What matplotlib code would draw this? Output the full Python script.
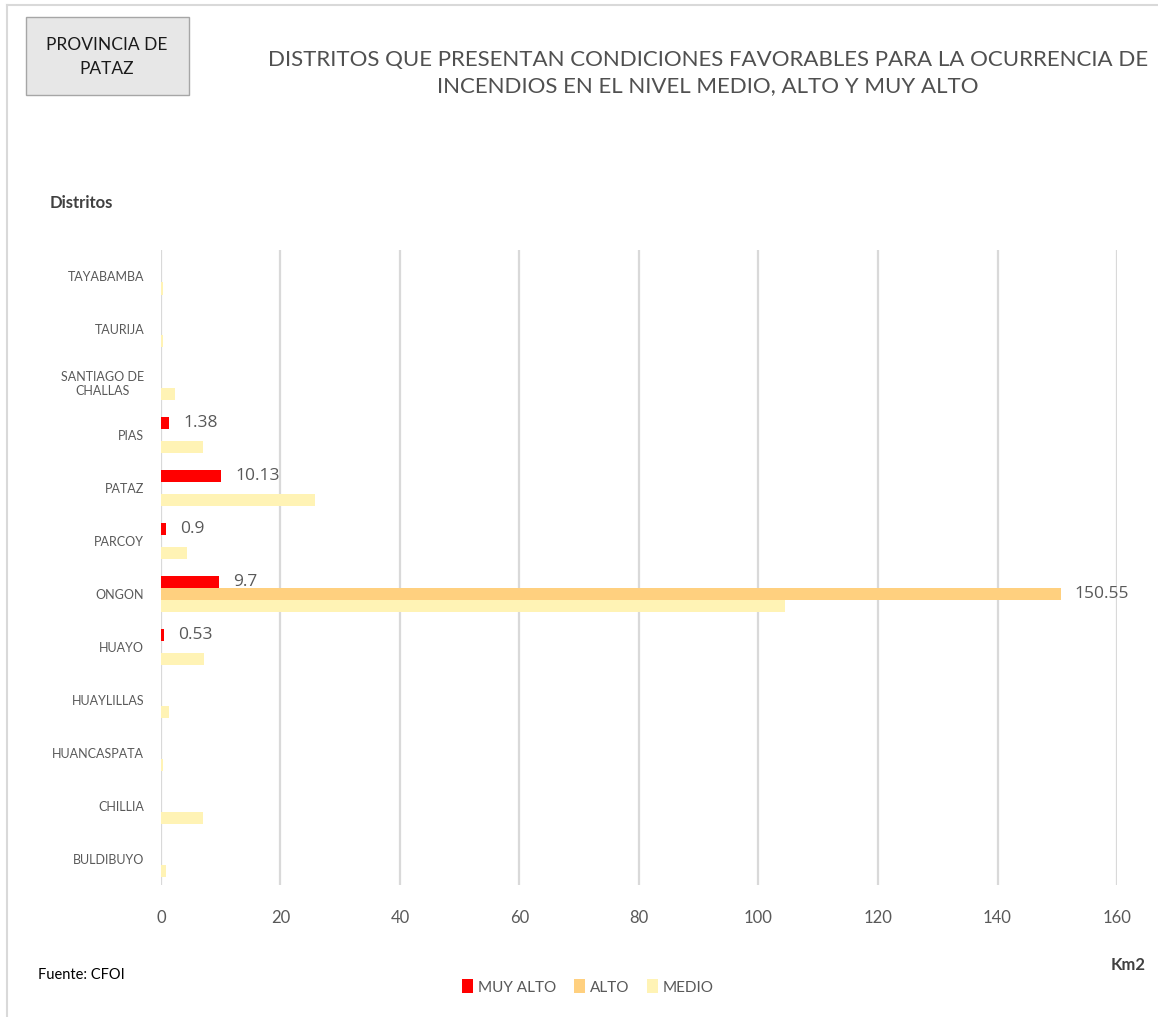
import numpy as np
import matplotlib
matplotlib.use("Agg")
import matplotlib.pyplot as plt
from matplotlib.patches import Rectangle

plt.rcParams['font.family'] = ['Lato', 'DejaVu Sans']

# Datos (km2), de arriba hacia abajo como en el grafico
distritos = ['TAYABAMBA', 'TAURIJA', 'SANTIAGO DE\nCHALLAS', 'PIAS', 'PATAZ', 'PARCOY',
             'ONGON', 'HUAYO', 'HUAYLILLAS', 'HUANCASPATA', 'CHILLIA', 'BULDIBUYO']
muy_alto = [0, 0, 0, 1.38, 10.13, 0.9, 9.7, 0.53, 0, 0, 0, 0]
alto = [0, 0, 0, 0, 0, 0, 150.55, 0, 0, 0, 0, 0]
medio = [0.3, 0.4, 2.3, 7.0, 25.8, 4.4, 104.5, 7.2, 1.3, 0.4, 7.0, 0.8]
series = ['MUY ALTO', 'ALTO', 'MEDIO']
colores = ['#FF0000', '#FFD07F', '#FFF3B5']
xticks = [0, 20, 40, 60, 80, 100, 120, 140, 160]

fig = plt.figure(figsize=(11.58, 10.17), dpi=100)
ax = fig.add_axes([0.139, 0.1298, 0.8256, 0.6244])

y = np.arange(len(distritos))
h = 0.228
valores = [muy_alto, alto, medio]
for k, (vals, col, nom) in enumerate(zip(valores, colores, series)):
    pos = y + (k - 1) * h
    ax.barh(pos, vals, height=h, color=col, label=nom, zorder=3)
    if nom == 'MEDIO':
        continue
    for p, v in zip(pos, vals):
        if v > 0:
            ax.annotate(f'{v:g}', (v, p), xytext=(10, 0), textcoords='offset points',
                        va='center', ha='left', fontsize=12.5, color='#595959',
                        family=['Open Sans', 'DejaVu Sans'], zorder=4)

ax.set_ylim(len(distritos) - 0.5, -0.5)
ax.set_xlim(0, 160)
ax.set_xticks(xticks)
ax.set_yticks(y)
ax.set_yticklabels(distritos, multialignment='center')
ax.tick_params(axis='y', length=0, pad=12, labelsize=9, labelcolor='#595959')
ax.tick_params(axis='x', length=0, pad=18, labelsize=12, labelcolor='#595959')
for s in ax.spines.values():
    s.set_visible(False)
ax.grid(axis='x', color='#d9d9d9', linewidth=1.6, zorder=0)
ax.set_axisbelow(True)

# marco exterior
fig.add_artist(plt.Line2D([0.006, 0.006], [0.0, 0.995], color='#d9d9d9', lw=1.5))
fig.add_artist(plt.Line2D([0.006, 1.0], [0.995, 0.995], color='#d9d9d9', lw=1.5))

# recuadro provincia
fig.add_artist(Rectangle((26 / 1158, 1 - 95 / 1017), 163 / 1158, 78 / 1017,
                         facecolor='#e7e7e7', edgecolor='#a6a6a6', lw=1.0))
fig.text(107 / 1158, 1 - 57 / 1017, 'PROVINCIA DE\nPATAZ', ha='center', va='center',
         fontsize=12.5, color='#1a1a1a', linespacing=1.55)

fig.text(708 / 1158, 1 - 73 / 1017,
         'DISTRITOS QUE PRESENTAN CONDICIONES FAVORABLES PARA LA OCURRENCIA DE\n'
         'INCENDIOS EN EL NIVEL MEDIO, ALTO Y MUY ALTO',
         ha='center', va='center', fontsize=16, color='#505050', linespacing=1.35)

fig.text(50 / 1158, 1 - 203 / 1017, 'Distritos', ha='left', va='center',
         fontsize=12, fontweight='bold', color='#404040')
fig.text(1128 / 1158, 1 - 965 / 1017, 'Km2', ha='center', va='center',
         fontsize=12, fontweight='bold', color='#404040')
fig.text(38 / 1158, 1 - 975 / 1017, 'Fuente: CFOI', ha='left', va='center',
         fontsize=10.5, color='#000000')

fig.legend(loc='center', bbox_to_anchor=(588 / 1158, 1 - 987 / 1017), ncol=3,
           frameon=False, fontsize=11, handlelength=0.7, handleheight=1.0,
           handletextpad=0.3, columnspacing=1.2, labelcolor='#595959')

fig.savefig('out.png', dpi=100)
